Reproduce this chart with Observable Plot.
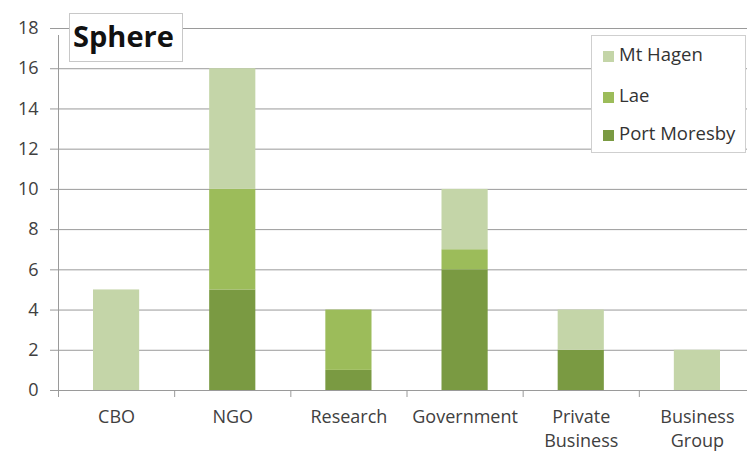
<!DOCTYPE html>
<html>
<head>
<meta charset="utf-8">
<script src="https://cdn.jsdelivr.net/npm/d3@7"></script>
<script src="https://cdn.jsdelivr.net/npm/@observablehq/plot@0.6"></script>
<style>
  html, body { margin: 0; padding: 0; background: #fff; }
  #wrap { position: relative; width: 747px; height: 452px; overflow: hidden; font-family: "Open Sans", sans-serif; }
  #title { position: absolute; left: 69px; top: 13px; border: 1px solid #c8c8c8; background: #fff;
           font-weight: bold; font-size: 29px; line-height: 44px; padding-left: 3px; box-sizing: border-box; width: 114px; height: 49px; color: #111; }
  #legend { position: absolute; left: 591px; top: 35px; width: 155px; height: 118px; border: 1px solid #cfcfcf; background: #fff; box-sizing: border-box; }
  .item { position: absolute; left: 11px; font-size: 18.5px; color: #333; line-height: 22px; white-space: nowrap; }
  .sw { display: inline-block; width: 11px; height: 11px; margin-right: 5px; vertical-align: -1px; }
</style>
</head>
<body>
<div id="wrap">
  <div id="chart"></div>
  <div id="title">Sphere</div>
  <div id="legend"></div>
</div>
<script>
const categories = ["CBO", "NGO", "Research", "Government", "Private\nBusiness", "Business\nGroup"];
const series = ["Port Moresby", "Lae", "Mt Hagen"];
const portMoresby = [0, 5, 1, 6, 2, 0];
const lae = [0, 5, 3, 1, 0, 0];
const mtHagen = [5, 6, 0, 3, 2, 2];
const colors = ["#7a9a42", "#9cbc5a", "#c4d5a8"];
const yTicks = [0, 2, 4, 6, 8, 10, 12, 14, 16, 18];

const values = [portMoresby, lae, mtHagen];
const rows = [];
categories.forEach((c, i) => {
  series.forEach((s, j) => rows.push({i, category: c, series: s, value: values[j][i]}));
});

const grey = "#9a9a9a";
const plot = Plot.plot({
  width: 747,
  height: 452,
  marginLeft: 58,
  marginRight: 0,
  marginTop: 28,
  marginBottom: 62,
  style: {fontFamily: "Open Sans, sans-serif", fontSize: "18px", color: "#404040", background: "#fff"},
  x: {type: "linear", domain: [0, categories.length], range: [58, 755], axis: null},
  y: {domain: [0, 18], axis: null},
  color: {domain: series, range: colors},
  marks: [
    Plot.gridY(yTicks, {stroke: grey, strokeOpacity: 1}),
    Plot.axisY({ticks: yTicks, tickSize: 8, tickPadding: 12, stroke: grey, fill: "#404040", fontSize: 18, tickFormat: d => d, label: null}),
    Plot.rectY(rows, Plot.stackY({x1: "i", x2: d => d.i + 1, y: "value", fill: "series", insetLeft: 35, insetRight: 35})),
    Plot.ruleY([0], {stroke: grey}),
    Plot.ruleX([0], {y1: 0, y2: 18, stroke: grey, insetBottom: -7}),
    Plot.axisX({ticks: d3.range(categories.length + 1), tickSize: 7, stroke: grey, tickFormat: () => "", label: null}),
    Plot.text(categories, {x: (d, i) => i + 0.5, y: 0, text: d => d, lineAnchor: "top", dy: 16, lineHeight: 1.3, fontSize: 18, fill: "#404040"})
  ]
});
document.getElementById("chart").appendChild(plot);

const legend = document.getElementById("legend");
const legendOrder = [2, 1, 0];
const tops = [7, 48, 86];
legendOrder.forEach((j, k) => {
  const el = document.createElement("div");
  el.className = "item";
  el.style.top = tops[k] + "px";
  el.innerHTML = `<span class="sw" style="background:${colors[j]}"></span>`;
  el.appendChild(document.createTextNode(series[j]));
  legend.appendChild(el);
});
</script>
</body>
</html>
